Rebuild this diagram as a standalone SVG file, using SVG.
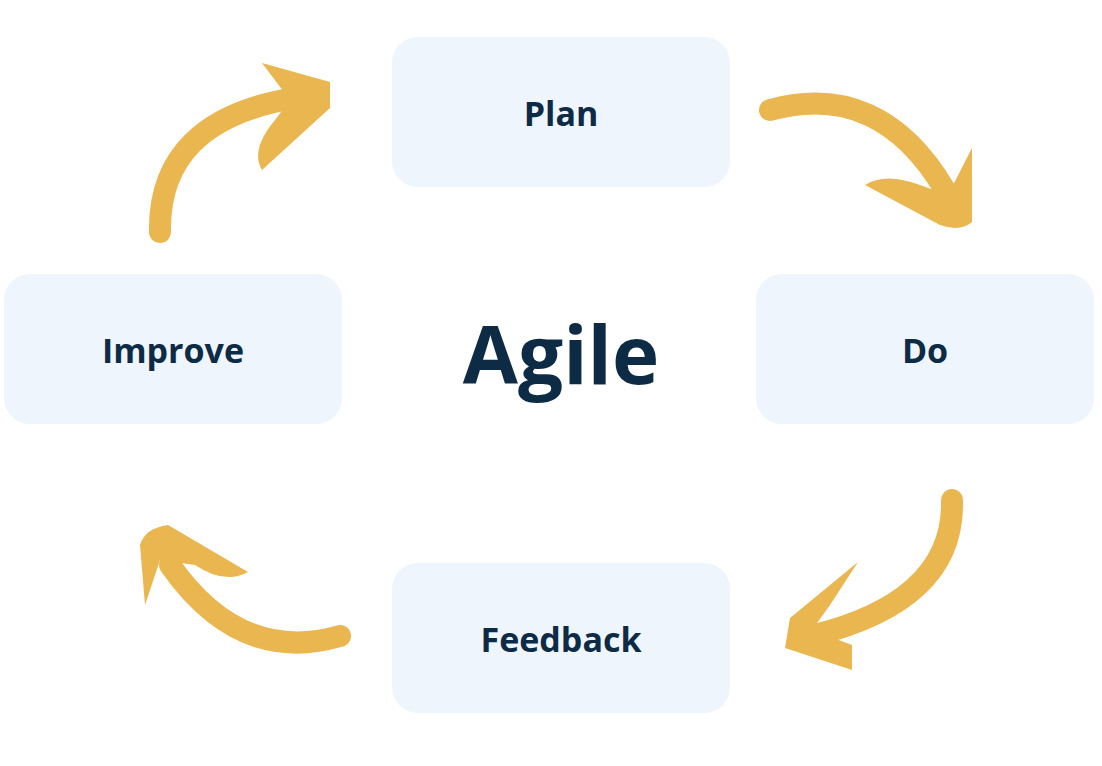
<svg xmlns="http://www.w3.org/2000/svg" width="1102" height="766" viewBox="0 0 1102 766">
<style>
.box{fill:#EEF5FD}
.lbl{font-family:"Open Sans","DejaVu Sans",sans-serif;font-weight:700;font-size:34px;fill:#0D2B45;text-anchor:middle;dominant-baseline:central}
.shaft{fill:none;stroke:#E9B64F;stroke-width:22;stroke-linecap:round}
.head{fill:#E9B64F}
</style>
<rect width="1102" height="766" fill="#fff"/>
<g id="center"><text x="561" y="352" class="lbl" style="font-size:80px">Agile</text></g>
<g id="plan"><rect class="box" x="392" y="37" width="338" height="150" rx="26"/><text class="lbl" x="561" y="113">Plan</text></g>
<g id="do"><rect class="box" x="756" y="274" width="338" height="150" rx="26"/><text class="lbl" x="925" y="350">Do</text></g>
<g id="improve"><rect class="box" x="4" y="274" width="338" height="150" rx="26"/><text class="lbl" x="173" y="350">Improve</text></g>
<g id="feedback"><rect class="box" x="392" y="563" width="338" height="150" rx="26"/><text class="lbl" x="561" y="639">Feedback</text></g>
<g id="connectors">
<path class="shaft" d="M160,232 Q158,120 295,98"/>
<path class="head" d="M262,63 L330,82 L330,108 L262,170 Q250,150 275,120 L290,100 Z"/>
<path class="shaft" d="M770,110 Q880,80 945,190"/>
<path class="head" d="M972,148 L972,222 Q960,232 940,225 L865,185 Q885,172 920,185 L948,195 Z"/>
<path class="shaft" d="M952,500 Q955,600 815,635"/>
<path class="head" d="M858,562 L830,605 L812,630 L852,645 L852,670 L785,648 L790,618 Z"/>
<path class="shaft" d="M340,636 Q240,665 170,565"/>
<path class="head" d="M248,572 Q225,585 195,565 L160,560 L145,605 L140,545 Q145,528 168,525 Z"/>
</g>
</svg>
